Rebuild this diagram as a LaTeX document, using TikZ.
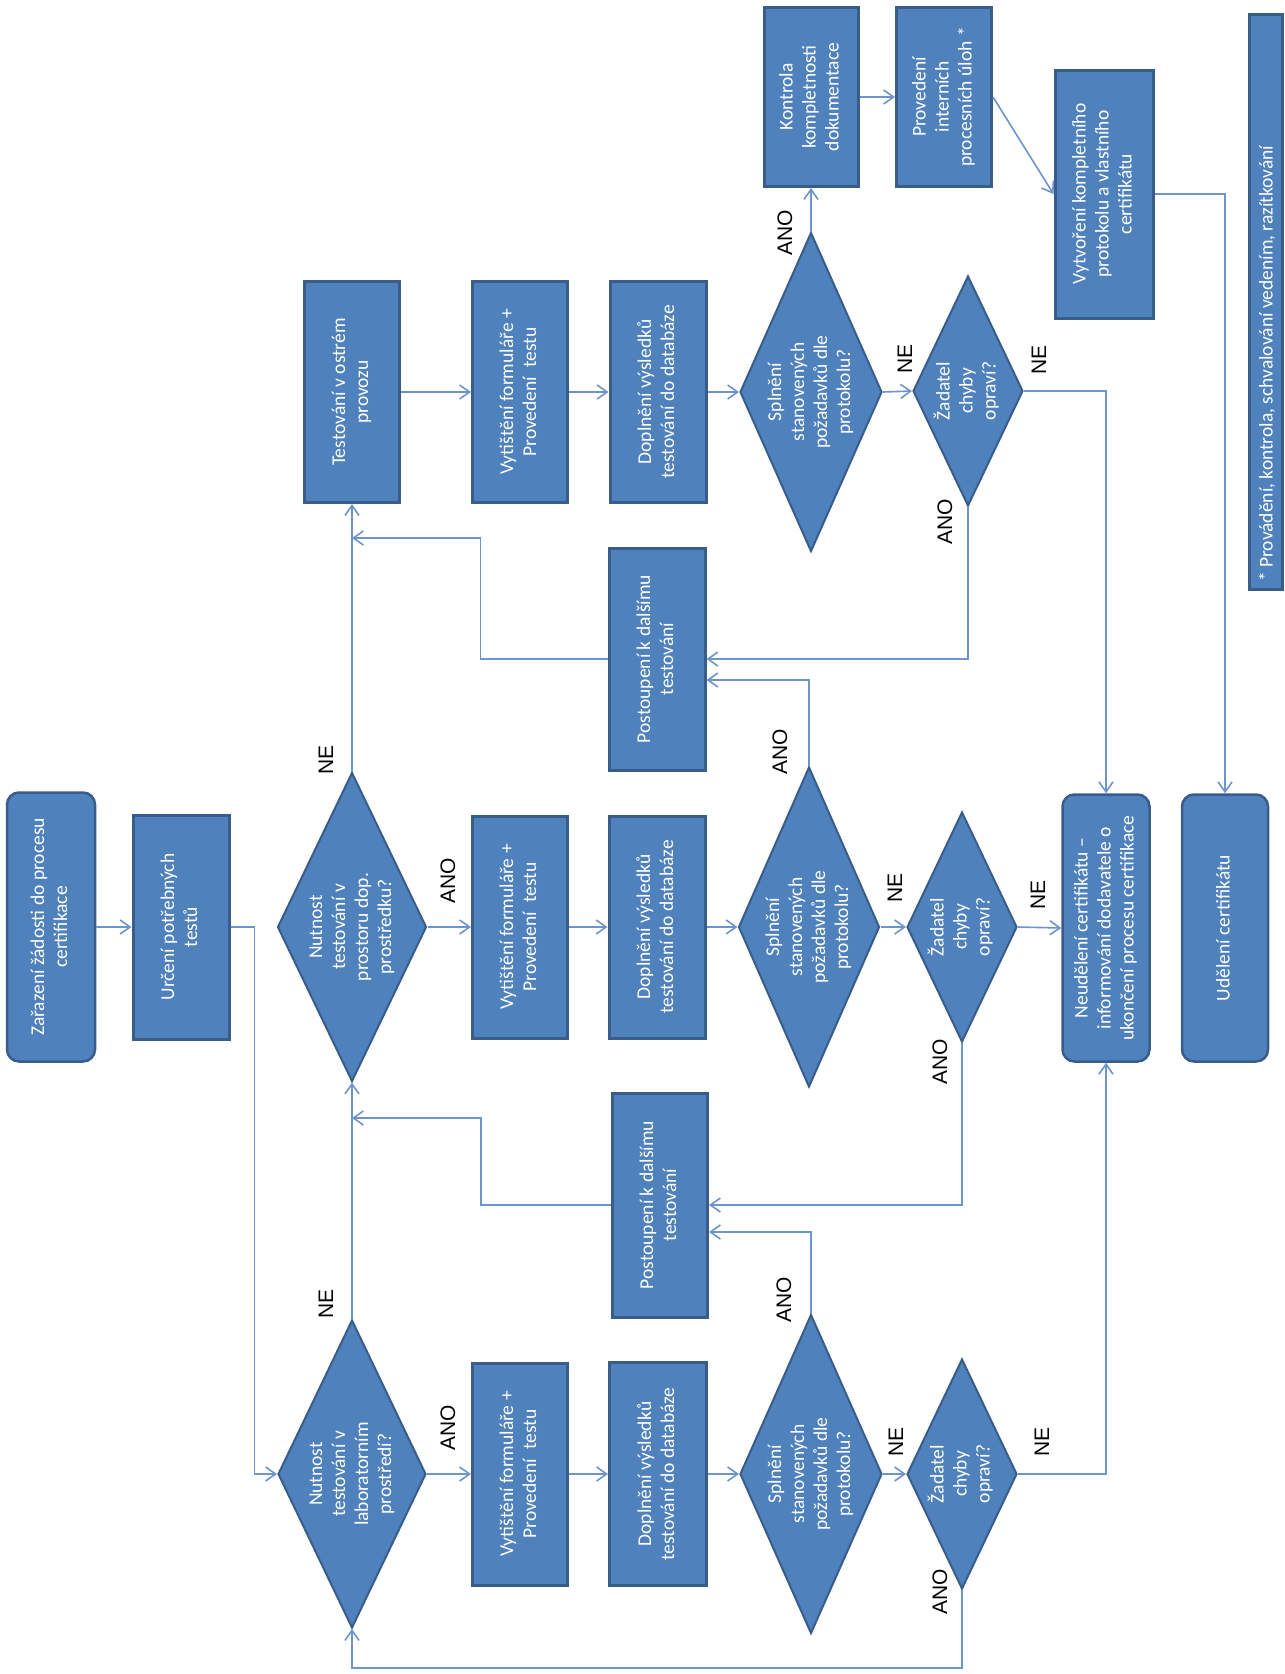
\documentclass[tikz,border=0pt]{standalone}
\usepackage{fontspec}
\usepackage{graphicx}
\usetikzlibrary{shapes.geometric,arrows.meta,calc}
\newfontfamily\cfont{Carlito}
\newfontfamily\lfont{Liberation Sans}
\newcommand{\btxt}{\cfont\fontsize{19.5}{23}\selectfont}
\newcommand{\ltxt}{\lfont\fontsize{21}{24}\selectfont}
\newcommand{\rtx}[1]{\rotatebox{90}{\begin{tabular}{@{}c@{}}#1\end{tabular}}}
\definecolor{boxfill}{HTML}{4F81BD}
\definecolor{boxdraw}{HTML}{385D8A}
\definecolor{connc}{RGB}{110,148,204}
\begin{document}
\begin{tikzpicture}[x=1pt,y=-1pt,
  box/.style={draw=boxdraw, fill=boxfill, line width=3pt, inner sep=0pt, text=white, font=\btxt},
  rbox/.style={box, rounded corners=12pt, line width=2.5pt},
  dia/.style={diamond, draw=boxdraw, fill=boxfill, line width=2pt, inner sep=0pt},
  dtxt/.style={text=white, font=\btxt, inner sep=0pt},
  conn/.style={draw=connc, line width=1.6pt, -{Straight Barb[length=10pt,width=14pt]}},
  plain/.style={draw=connc, line width=1.6pt},
  lab/.style={font=\ltxt, rotate=90, inner sep=0pt, text=black}
]
\fill[white] (0,0) rectangle (1285,1674);
\useasboundingbox (0,0) rectangle (1285,1674);

% ---------- shapes ----------
\node[rbox, minimum width=88pt, minimum height=269pt] (start) at (51,927) {\rtx{Zařazení žádosti do procesu\\certifikace}};
\node[box, minimum width=96pt, minimum height=224pt] (urceni) at (181,927) {\rtx{Určení potřebných\\testů}};

% top row
\node[box, minimum width=95pt, minimum height=221pt] (ttop) at (352,392) {\rtx{Testování v ostrém\\provozu}};
\node[box, minimum width=95pt, minimum height=221pt] (vtop) at (520,392) {\rtx{Vytištění formuláře +\\Provedení\ \ testu}};
\node[box, minimum width=96pt, minimum height=221pt] (ptop) at (658,392) {\rtx{Doplnění výsledků\\testování do databáze}};
\node[dia, minimum width=142pt, minimum height=319pt, label={[dtxt]center:{\rtx{Splnění\\stanovených\\požadavků dle\\protokolu?}}}] (stop) at (811,392) {};
\node[dia, minimum width=110pt, minimum height=230pt, label={[dtxt]center:{\rtx{Žadatel\\chyby\\opraví?}}}] (ztop) at (968,391) {};

% middle row
\node[dia, minimum width=149pt, minimum height=309pt, label={[dtxt]center:{\rtx{Nutnost\\testování\ v\\prostoru dop.\\prostředku?}}}] (dmid) at (352,927) {};
\node[box, minimum width=95pt, minimum height=222pt] (vmid) at (520,927) {\rtx{Vytištění formuláře +\\Provedení\ \ testu}};
\node[box, minimum width=96pt, minimum height=222pt] (pmid) at (657,927) {\rtx{Doplnění výsledků\\testování do databáze}};
\node[dia, minimum width=141pt, minimum height=320pt, label={[dtxt]center:{\rtx{Splnění\\stanovených\\požadavků dle\\protokolu?}}}] (smid) at (809,927) {};
\node[dia, minimum width=110pt, minimum height=230pt, label={[dtxt]center:{\rtx{Žadatel\\chyby\\opraví?}}}] (zmid) at (962,927) {};

% lower row
\node[dia, minimum width=148pt, minimum height=308pt, label={[dtxt]center:{\rtx{Nutnost\\testování\ v\\laboratorním\\prostředí?}}}] (dlow) at (352,1474) {};
\node[box, minimum width=95pt, minimum height=222pt] (vlow) at (520,1474) {\rtx{Vytištění formuláře +\\Provedení\ \ testu}};
\node[box, minimum width=97pt, minimum height=223pt] (plow) at (658,1474) {\rtx{Doplnění výsledků\\testování do databáze}};
\node[dia, minimum width=142pt, minimum height=319pt, label={[dtxt]center:{\rtx{Splnění\\stanovených\\požadavků dle\\protokolu?}}}] (slow) at (811,1474) {};
\node[dia, minimum width=110pt, minimum height=230pt, label={[dtxt]center:{\rtx{Žadatel\\chyby\\opraví?}}}] (zlow) at (962,1474) {};

% forwarding boxes
\node[box, minimum width=96pt, minimum height=222pt] (postup) at (657,659) {\rtx{Postoupení k dalšímu\\testování}};
\node[box, minimum width=95pt, minimum height=224pt] (postlow) at (660,1205) {\rtx{Postoupení k dalšímu\\testování}};

% top right
\node[box, minimum width=94pt, minimum height=179pt] (kontrola) at (811,97) {\rtx{Kontrola\\kompletnosti\\dokumentace}};
\node[box, minimum width=95pt, minimum height=179pt] (proved) at (944,97) {\rtx{Provedení\\interních\\procesních úloh *}};
\node[box, minimum width=98pt, minimum height=248pt] (vytvor) at (1104,194) {\rtx{Vytvoření kompletního\\protokolu a vlastního\\certifikátu}};

% result boxes
\node[rbox, minimum width=87pt, minimum height=267pt] (neudel) at (1106,928) {\rtx{Neudělení certifikátu –\\informování dodavatele o\\ukončení procesu certifikace}};
\node[rbox, minimum width=86pt, minimum height=267pt] (udel) at (1225,928) {\rtx{Udělení certifikátu}};

% footnote
\node[box, minimum width=33pt, minimum height=575pt] (foot) at (1266,302) {};
\node[dtxt, rotate=90, anchor=west] (foottext) at (1267,582) {* Provádění, kontrola, schvalování vedením, razítkování};

% ---------- helper coordinates ----------
\coordinate (lowbot) at (0,1668);
\coordinate (j1) at (352,1118);
\coordinate (j2) at (352,538);

% ---------- connectors ----------
\draw[conn] (start.east) -- (urceni.west);
\draw[conn] (urceni.east) -- ++(24,0) |- (dlow.west);

% lower row
\draw[conn] (dlow.east) -- (vlow.west);
\draw[conn] (vlow.east) -- (plow.west);
\draw[conn] (plow.east) -- (slow.west);
\draw[conn] (slow.east) -- (zlow.west);
\draw[conn] (zlow.east) -| (neudel.south);
\draw[conn] (zlow.south) -- (zlow.south |- lowbot) -| (dlow.south);
\draw[conn] (dlow.north) -- (dmid.south);
\draw[conn] (slow.north) |- ([yshift=-27pt]postlow.east);
\draw[conn] (zmid.south) |- (postlow.east);
\draw[conn] (postlow.west) -- ++(-130,0) |- (j1);

% middle row
\draw[conn] (dmid.east) -- (vmid.west);
\draw[conn] (vmid.east) -- (pmid.west);
\draw[conn] (pmid.east) -- (smid.west);
\draw[conn] (smid.east) -- (zmid.west);
\draw[conn] (zmid.east) -- (neudel.west);
\draw[conn] (dmid.north) -- (ttop.south);
\draw[conn] (smid.north) |- ([yshift=-21pt]postup.east);
\draw[conn] (ztop.south) |- (postup.east);
\draw[conn] (postup.west) -- ++(-127,0) |- (j2);

% top row
\draw[conn] (ttop.east) -- (vtop.west);
\draw[conn] (vtop.east) -- (ptop.west);
\draw[conn] (ptop.east) -- (stop.west);
\draw[conn] (stop.east) -- (ztop.west);
\draw[conn] (ztop.east) -| (neudel.north);
\draw[conn] (stop.north) -- (kontrola.south);
\draw[conn] (kontrola.east) -- (proved.west);
\draw[conn] (proved.east) -- (vytvor.west);
\draw[conn] (vytvor.east) -| (udel.north);

% ---------- labels ----------
\node[lab] (l1) at (448,1428) {ANO};
\node[lab] (l2) at (448,881) {ANO};
\node[lab] (l3) at (326,1304) {NE};
\node[lab] (l4) at (326,760) {NE};
\node[lab] (l5) at (896,1442) {NE};
\node[lab] (l6) at (895,888) {NE};
\node[lab] (l7) at (905,359) {NE};
\node[lab] (l8) at (1042,1442) {NE};
\node[lab] (l9) at (1038,895) {NE};
\node[lab] (l10) at (1039,360) {NE};
\node[lab] (l11) at (940,1592) {ANO};
\node[lab] (l12) at (940,1062) {ANO};
\node[lab] (l13) at (945,522) {ANO};
\node[lab] (l14) at (785,233) {ANO};
\node[lab] (l15) at (780,752) {ANO};
\node[lab] (l16) at (784,1300) {ANO};
\end{tikzpicture}
\end{document}
